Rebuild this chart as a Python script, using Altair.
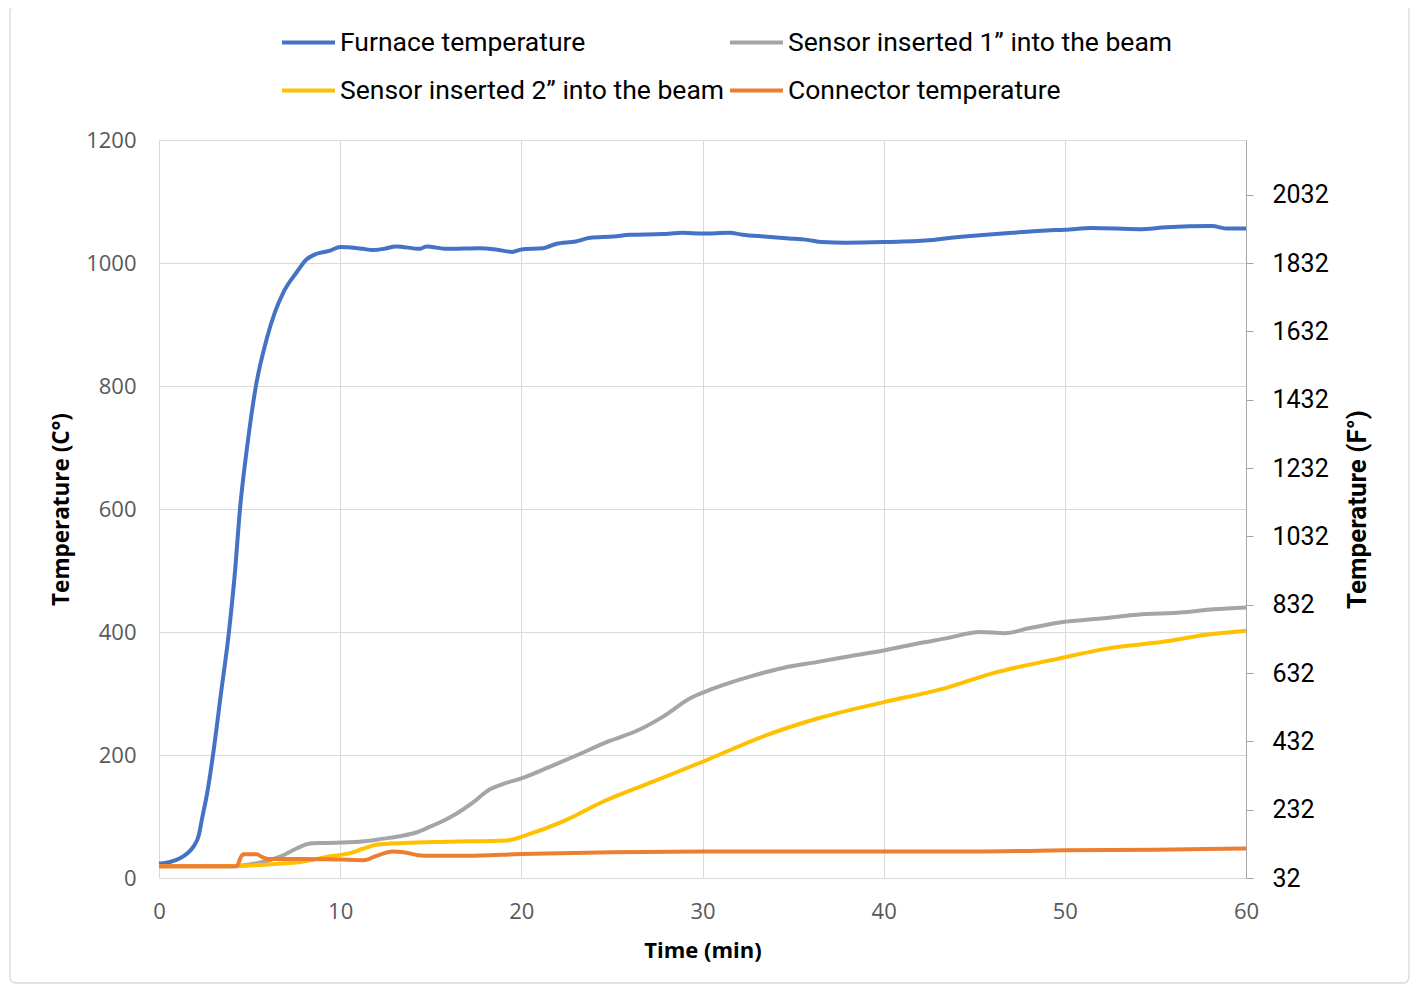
import altair as alt
import pandas as pd

# ---- data ----
series_names = [
    "Furnace temperature",
    "Sensor inserted 1\u201d into the beam",
    "Sensor inserted 2\u201d into the beam",
    "Connector temperature",
]
series_colors = ["#4472C4", "#A5A5A5", "#FFC000", "#ED7D31"]

furnace_t = [0, 0.6, 1.16, 1.6, 1.9, 2.2, 2.36, 2.7, 2.98, 3.42, 3.86, 4.2, 4.47, 4.86,
             5.35, 5.94, 6.4, 6.86, 7.6, 8.15, 8.7, 9.44, 10, 11.25, 11.8, 12.4, 13.1,
             14.4, 14.75, 15.9, 17.7, 18.6, 19.5, 20, 21.2, 21.9, 23, 23.8, 25.1, 26,
             27.8, 28.9, 30, 31.5, 32.2, 33.4, 34.8, 35.7, 36.6, 37.9, 40, 42.5, 43.4,
             45.3, 47.1, 49, 50, 51.5, 54.1, 55.6, 58.1, 59, 60]
furnace_c = [23, 26, 32, 41, 51, 70, 94, 145, 200, 300, 400, 500, 600, 700,
             800, 876, 920, 952, 985, 1006, 1015, 1020, 1026, 1023, 1021, 1023, 1027,
             1023, 1027, 1023, 1024, 1022, 1018, 1022, 1024, 1031, 1035, 1041, 1043, 1046,
             1047, 1049, 1048, 1049, 1046, 1043, 1040, 1038, 1034, 1033, 1034, 1037, 1040,
             1045, 1049, 1053, 1054, 1057, 1055, 1058, 1060, 1056, 1056]

sensor1_t = [0, 4, 5, 6, 6.86, 7.6, 8.33, 9, 10.5, 11.5, 12.4, 13.3, 14.2, 15, 15.7,
             16.5, 17.3, 18.2, 19, 20, 21.5, 23.1, 24.8, 26.5, 27.8, 29.3, 30.5, 32.9,
             34.5, 36.3, 38.2, 40, 42, 43.5, 45.3, 46.7, 48, 49.8, 52, 54, 56.6, 58.2, 60]
sensor1_c = [19, 19, 22, 28, 37, 48, 56, 57, 58, 60, 64, 68, 74, 84, 93,
             106, 122, 143, 153, 162, 180, 200, 222, 241, 262, 292, 307, 330,
             342, 351, 361, 370, 382, 390, 400, 398, 406, 416, 422, 428, 432, 437, 440]

sensor2_t = [0, 3.2, 5.5, 7, 7.8, 9.4, 10.5, 11.3, 12, 13.5, 16, 19.2, 20.3, 22.3, 24.5,
             27.3, 30, 33.5, 36.3, 40, 43.3, 45.9, 50, 52.3, 55.4, 57.7, 60]
sensor2_c = [19, 19, 21, 24, 26, 35, 40, 48, 54, 57, 59, 61, 70, 92, 124,
             157, 189, 232, 259, 286, 308, 332, 359, 373, 384, 395, 402]

connector_t = [0, 4.3, 4.5, 4.66, 5.39, 5.7, 6.0, 8, 10, 11.3, 12, 12.9, 13.5, 14.3, 15,
               17, 20, 25, 30, 35, 40, 45, 50, 55, 60]
connector_c = [19, 19, 33, 38.5, 38.5, 34, 31, 31, 30, 29, 36, 43, 42, 37, 36,
               36, 39, 42, 43, 43, 43, 43, 45, 46, 48]

x_ticks = [0, 10, 20, 30, 40, 50, 60]
c_ticks = [0, 200, 400, 600, 800, 1000, 1200]
f_ticks = [32, 232, 432, 632, 832, 1032, 1232, 1432, 1632, 1832, 2032]
f_domain = [32, 2192]

rows = []
for name, ts, cs in zip(series_names,
                        [furnace_t, sensor1_t, sensor2_t, connector_t],
                        [furnace_c, sensor1_c, sensor2_c, connector_c]):
    for t, c in zip(ts, cs):
        rows.append({"series": name, "t": t, "c": c})
df = pd.DataFrame(rows)

W, H = 1087, 738

lines = alt.Chart(df).mark_line(strokeWidth=4, interpolate="monotone").encode(
    x=alt.X("t:Q", scale=alt.Scale(domain=[0, 60], nice=False),
            axis=alt.Axis(values=x_ticks, format="d", title="Time (min)", grid=True,
                          gridColor="#d9d9d9", domain=False, ticks=False, tickSize=0,
                          labelPadding=23, labelFlush=False,
                          labelFont="Open Sans", labelFontSize=22, labelColor="#595959",
                          titleFont="Open Sans", titleFontSize=22, titleFontWeight="bold",
                          titleColor="black", titleX=W / 2, titleY=72,
                          titleBaseline="middle", titleAlign="center")),
    y=alt.Y("c:Q", scale=alt.Scale(domain=[0, 1200], nice=False),
            axis=alt.Axis(orient="left", values=c_ticks, format="d",
                          title="Temperature (C\u00b0)", grid=True,
                          gridColor="#d9d9d9", domain=False, ticks=False, tickSize=0,
                          labelPadding=23, labelFlush=False, labelFont="Open Sans",
                          labelFontSize=22, labelColor="#595959", titleFont="Open Sans",
                          titleFontSize=22.5, titleFontWeight="bold", titleColor="black",
                          titleAngle=270, titleX=-98, titleY=H / 2,
                          titleBaseline="middle", titleAlign="center")),
    color=alt.Color("series:N", sort=series_names,
                    scale=alt.Scale(domain=series_names, range=series_colors),
                    legend=alt.Legend(orient="none", legendX=121, legendY=-126, columns=2,
                                      direction="horizontal",
                                      title=None, symbolType="stroke", symbolStrokeWidth=4,
                                      symbolSize=2809, labelFont="Roboto", labelFontSize=26.5,
                                      labelColor="black", labelOffset=3, columnPadding=-3,
                                      rowPadding=6, padding=0, labelLimit=600)),
    order=alt.Order("t:Q"),
)

fdf = pd.DataFrame({"t": [0, 0], "f": f_domain})
faxis = alt.Chart(fdf).mark_point(opacity=0).encode(
    x=alt.X("t:Q"),
    y=alt.Y("f:Q", scale=alt.Scale(domain=f_domain, nice=False, zero=False),
            axis=alt.Axis(orient="right", values=f_ticks, format="d",
                          title="Temperature (F\u00b0)", labelFlush=False,
                          grid=False, domainColor="#a6a6a6", tickColor="#a6a6a6",
                          tickSize=7, labelPadding=19, labelFont="Roboto", labelFontSize=25,
                          labelColor="black", titleFont="Roboto", titleFontSize=26,
                          titleFontWeight="bold", titleColor="black", titleAngle=270,
                          titleX=111, titleY=H / 2, titleBaseline="middle",
                          titleAlign="center")),
)

frame = alt.Chart(pd.DataFrame({"k": [0]})).mark_rect(
    fillOpacity=0, stroke="#d9d9d9", strokeWidth=1.3, cornerRadius=6
).encode(x=alt.value(-149), x2=alt.value(1250), y=alt.value(-135), y2=alt.value(843))

chart = alt.layer(lines, faxis, frame).resolve_scale(y="independent").properties(
    width=W, height=H,
    autosize=alt.AutoSizeParams(type="none"),
    padding={"left": 151, "top": 132, "right": 165, "bottom": 106},
).configure_view(strokeWidth=0)

chart.save("out.html", embed_options={"renderer": "svg", "actions": False})
